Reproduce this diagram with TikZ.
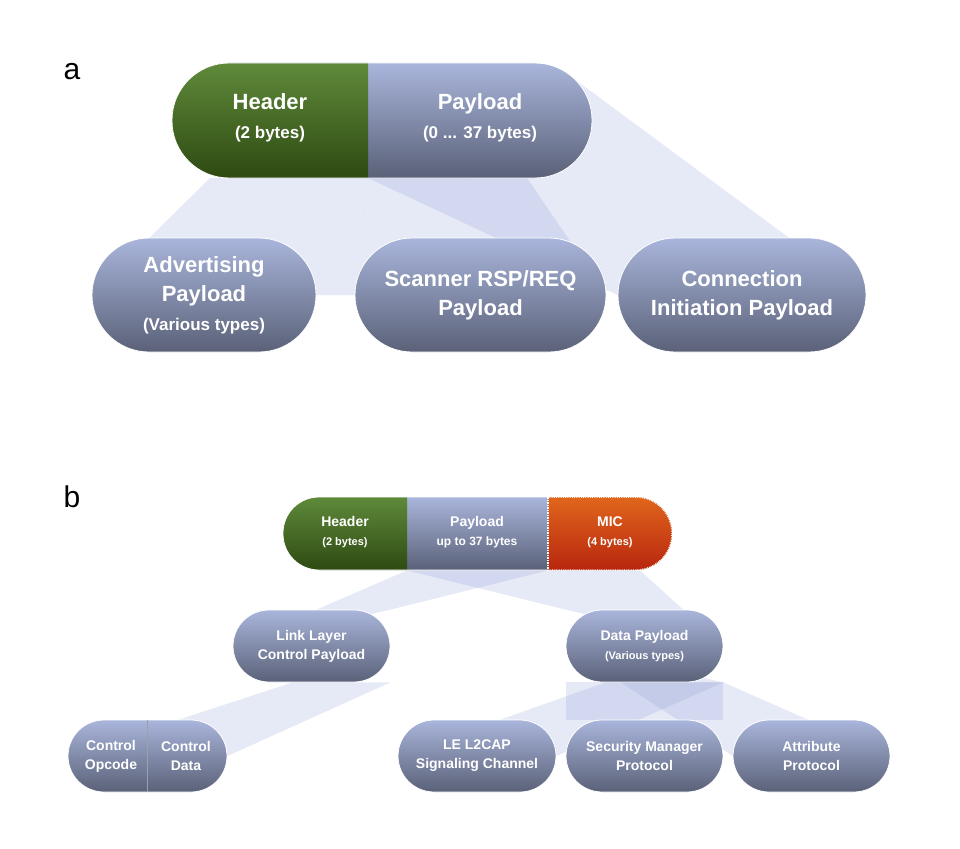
\documentclass[tikz,border=0pt]{standalone}
\usepackage{fontspec}
\setmainfont{Liberation Sans}
\usetikzlibrary{positioning,backgrounds}

\definecolor{pillTop}{HTML}{A9B5DB}
\definecolor{pillBot}{HTML}{5A6178}
\definecolor{hdrTop}{HTML}{5F8A3A}
\definecolor{hdrBot}{HTML}{2E4A12}
\definecolor{micTop}{HTML}{E0661C}
\definecolor{micBot}{HTML}{B8260E}
\definecolor{fanBlue}{HTML}{8C9CD6}

\newcommand{\bigtxt}{\fontsize{22}{29}\bfseries\selectfont}
\newcommand{\bigsub}{\fontsize{17}{20}\bfseries\selectfont}
\newcommand{\smalltxt}{\fontsize{14}{19}\bfseries\selectfont}
\newcommand{\smallsub}{\fontsize{11}{13}\bfseries\selectfont}

\tikzset{
  pill/.style={rounded corners=#1, draw=white, line width=0.8pt, top color=pillTop, bottom color=pillBot,
    text=white, align=center, inner sep=0pt},
  hdr/.style={top color=hdrTop, bottom color=hdrBot},
  mic/.style={top color=micTop, bottom color=micBot},
  fan/.style={fill=fanBlue, fill opacity=0.22, draw=none},
  lbl/.style={text=white, align=center, inner sep=0pt},
}

\begin{document}
\begin{tikzpicture}[x=1pt,y=-1pt]
\useasboundingbox (0,0) rectangle (960,848);

% part a
\node[font=\fontsize{30}{30}\selectfont] (tagA) at (72,72) {a};
\node[pill=57pt, minimum width=420pt, minimum height=115pt] (topA) at (382,120.5) {};
\begin{scope}
\clip (172,60) rectangle (368,180);
\node[pill=57pt, hdr, minimum width=420pt, minimum height=115pt] at (382,120.5) {};
\end{scope}
\coordinate (splitA) at (368,178);
\node[lbl, font=\bigtxt] (hdrA) at (270,118) {Header\\{\bigsub (2 bytes)}};
\node[lbl, font=\bigtxt] (payA) at (480,118) {Payload\\{\bigsub (0 ... 37 bytes)}};

\node[pill=57pt, font=\bigtxt, minimum width=224pt, minimum height=114pt] (adv) at (204,295)
  {Advertising\\Payload\\{\bigsub (Various types)}};
\node[pill=57pt, font=\bigtxt, minimum width=251pt, minimum height=114pt] (scan) at (480.5,295)
  {Scanner RSP/REQ\\Payload};
\node[pill=57pt, font=\bigtxt, minimum width=248pt, minimum height=114pt] (conn) at (742,295)
  {Connection\\Initiation Payload};

% part b
\node[font=\fontsize{30}{30}\selectfont] (tagB) at (72,497) {b};
\node[pill=36pt, minimum width=389pt, minimum height=73pt] (topB) at (477.5,533.5) {};
\begin{scope}
\clip (280,495) rectangle (407,572);
\node[pill=36pt, hdr, minimum width=389pt, minimum height=73pt] at (477.5,533.5) {};
\end{scope}
\begin{scope}
\clip (548,495) rectangle (676,572);
\node[pill=36pt, mic, densely dotted, line width=1.5pt, minimum width=389pt, minimum height=73pt] at (477.5,533.5) {};
\end{scope}
\coordinate (splitB) at (548,497);
\draw[white, densely dotted, line width=1.5pt] (splitB) -- (topB.south -| splitB);
\node[lbl, font=\smalltxt] (hdrB) at (345,532) {Header\\{\smallsub (2 bytes)}};
\node[lbl, font=\smalltxt] (payB) at (477,532) {Payload\\{\fontsize{12}{14}\bfseries\selectfont up to 37 bytes}};
\node[lbl, font=\smalltxt] (micB) at (610,532) {MIC\\{\smallsub (4 bytes)}};

\node[pill=36pt, font=\smalltxt, minimum width=157pt, minimum height=72pt] (llc) at (311.5,646)
  {Link Layer\\Control Payload};
\node[pill=36pt, font=\smalltxt, minimum width=157pt, minimum height=72pt] (dpl) at (644.5,646)
  {Data Payload\\{\smallsub (Various types)}};

\node[pill=36pt, minimum width=159pt, minimum height=72pt] (ctl) at (147.5,756) {};
\draw[pillBot!60, line width=0.8pt] (ctl.north) -- (ctl.south);
\node[lbl, font=\smalltxt] (opc) at (111,756) {Control\\Opcode};
\node[lbl, font=\smalltxt] (cdat) at (186,756) {Control\\Data};
\node[pill=36pt, font=\smalltxt, minimum width=158pt, minimum height=72pt] (l2cap) at (477,756)
  {LE L2CAP\\Signaling Channel};
\node[pill=36pt, font=\smalltxt, minimum width=157pt, minimum height=72pt] (smp) at (644.5,756)
  {Security Manager\\Protocol};
\node[pill=36pt, font=\smalltxt, minimum width=157pt, minimum height=72pt] (att) at (811.5,756)
  {Attribute\\Protocol};

% projection fans
\begin{scope}[on background layer]
\fill[fan] ([xshift=-158pt]splitA) -- (splitA) -- (scan.west) -- (adv.west) -- cycle;
\fill[fan] (splitA) -- ([xshift=-65pt]topA.south east) -- (scan.east) -- (scan.west) -- cycle;
\fill[fan] (splitA) -- ([xshift=-20pt,yshift=-15pt]topA.north east) -- (conn.east) -- (conn.west) -- cycle;
\fill[fan] ([xshift=-141pt]topB.south -| splitB) -- (topB.south -| splitB) -- (llc.north east) -- (llc.west) -- cycle;
\fill[fan] ([xshift=-141pt]topB.south -| splitB) -- ([xshift=92pt]topB.south -| splitB) -- (dpl.east) -- (dpl.north west) -- cycle;
\fill[fan] ([xshift=60pt]llc.south west) -- (llc.south east) -- (ctl.east) -- (ctl.west) -- cycle;
\fill[fan] ([xshift=40pt]dpl.south west) -- (dpl.south east) -- (l2cap.east) -- (l2cap.west) -- cycle;
\fill[fan] (dpl.south west) -- (dpl.south east) -- (smp.north east) -- (smp.north west) -- cycle;
\fill[fan] (dpl.west) -- (dpl.south east) -- (att.east) -- (att.west) -- cycle;
\end{scope}
\end{tikzpicture}
\end{document}
